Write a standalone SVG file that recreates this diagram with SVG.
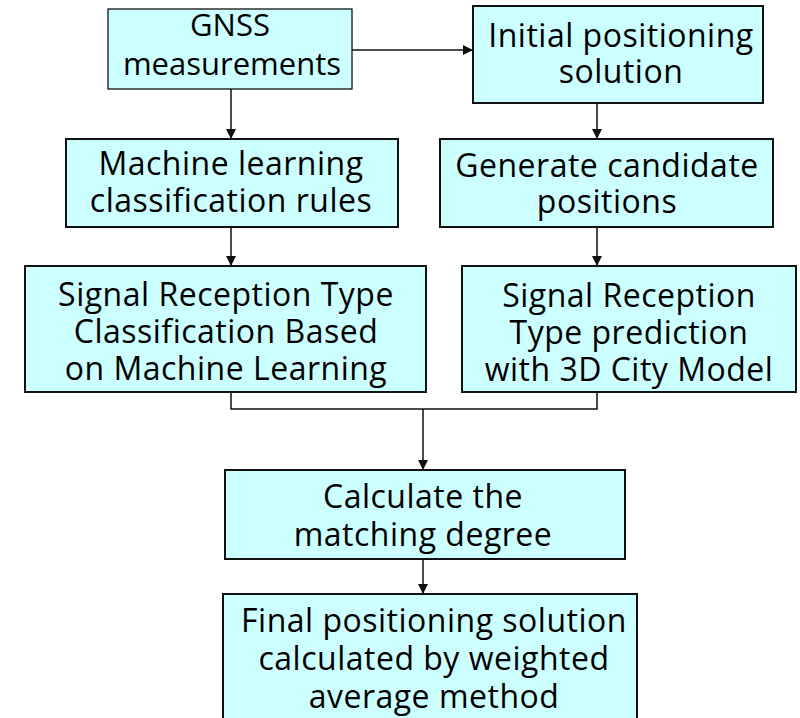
<svg xmlns="http://www.w3.org/2000/svg" width="800" height="718" viewBox="0 0 800 718">
  <style>
    .box { fill: #ccffff; stroke: #111; stroke-width: 2; }
    .thin { stroke-width: 1.3; }
    .lbl { font-family: "Open Sans", "Noto Sans", sans-serif; font-size: 32px; letter-spacing: 0.5px; fill: #000; text-anchor: middle; }
    .tight { font-size: 31px; letter-spacing: 0; }
    .wire { fill: none; stroke: #111; stroke-width: 1.5; }
  </style>
  <defs>
    <marker id="arrow" viewBox="0 0 10 10" refX="10" refY="5" markerWidth="10" markerHeight="10" markerUnits="userSpaceOnUse" orient="auto">
      <path d="M0,0 L10,5 L0,10 Z" fill="#111"/>
    </marker>
  </defs>

  <g id="connectors">
    <path class="wire" d="M352,50 H473" marker-end="url(#arrow)"/>
    <path class="wire" d="M231,89 V139" marker-end="url(#arrow)"/>
    <path class="wire" d="M597,103 V139" marker-end="url(#arrow)"/>
    <path class="wire" d="M231,227 V266" marker-end="url(#arrow)"/>
    <path class="wire" d="M597,227 V266" marker-end="url(#arrow)"/>
    <path class="wire" d="M231,392 V409 H597 V392"/>
    <path class="wire" d="M423,409 V470" marker-end="url(#arrow)"/>
    <path class="wire" d="M423,559 V594" marker-end="url(#arrow)"/>
  </g>

  <g id="gnss">
    <rect class="box thin" x="108" y="9" width="244" height="80"/>
    <text class="lbl tight"><tspan x="230" y="36">GNSS</tspan><tspan x="232" y="75">measurements</tspan></text>
  </g>

  <g id="initial">
    <rect class="box" x="473" y="6" width="290" height="97"/>
    <text class="lbl"><tspan x="621" y="47">Initial positioning</tspan><tspan x="621" y="83">solution</tspan></text>
  </g>

  <g id="ml-rules">
    <rect class="box" x="66" y="139" width="332" height="88"/>
    <text class="lbl"><tspan x="231" y="175">Machine learning</tspan><tspan x="231" y="212">classification rules</tspan></text>
  </g>

  <g id="candidates">
    <rect class="box" x="440" y="139" width="333" height="88"/>
    <text class="lbl"><tspan x="607" y="177">Generate candidate</tspan><tspan x="607" y="213">positions</tspan></text>
  </g>

  <g id="ml-classify">
    <rect class="box" x="25" y="266" width="401" height="126"/>
    <text class="lbl"><tspan x="226" y="306">Signal Reception Type</tspan><tspan x="226" y="343">Classification Based</tspan><tspan x="226" y="380">on Machine Learning</tspan></text>
  </g>

  <g id="city-model">
    <rect class="box" x="462" y="266" width="334" height="126"/>
    <text class="lbl"><tspan x="629" y="307">Signal Reception</tspan><tspan x="629" y="344">Type prediction</tspan><tspan x="629" y="381">with 3D City Model</tspan></text>
  </g>

  <g id="matching">
    <rect class="box" x="225" y="470" width="400" height="89"/>
    <text class="lbl"><tspan x="423" y="508">Calculate the</tspan><tspan x="423" y="546">matching degree</tspan></text>
  </g>

  <g id="final">
    <rect class="box" x="223" y="594" width="414" height="140"/>
    <text class="lbl"><tspan x="434" y="632">Final positioning solution</tspan><tspan x="434" y="670">calculated by weighted</tspan><tspan x="434" y="708">average method</tspan></text>
  </g>
</svg>
